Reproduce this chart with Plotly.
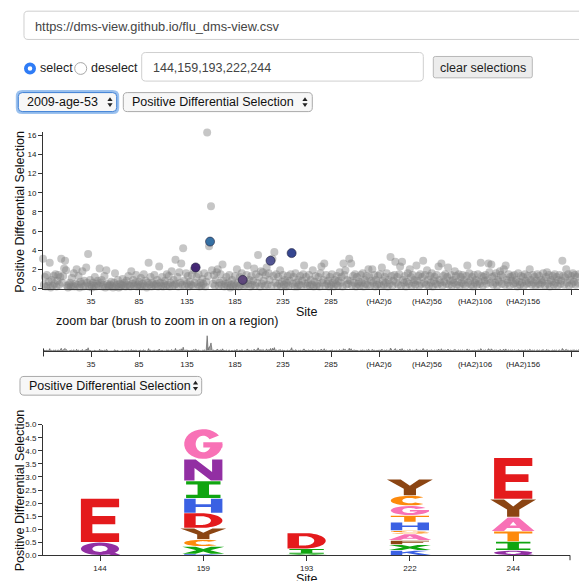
import math
import plotly.graph_objects as go

# ---------------- data ----------------
sites = ([str(s) for s in range(-16, 0)] + [str(s) for s in range(1, 330)]
         + [f"(HA2){s}" for s in range(1, 222)])

pos_diff_sel = [
    3.1, 0.4, 1.2, 0.2, 1.4, 0.3, 0.7, 2.7, 0.1, 0.9,
    0.3, 1.3, 0.5, 1.5, 0.2, 0.8, 1.4, 0.4, 1.2, 3.1,
    0.6, 1.3, 2.1, 2.9, 1.9, 0.3, 0.1, 0.4, 0.6, 0.2,
    1.1, 0.3, 1.6, 0.2, 0.5, 2.0, 0.4, 1.3, 0.1, 0.7,
    0.5, 1.8, 0.2, 0.8, 0.3, 2.2, 0.6, 3.6, 0.2, 0.9,
    0.4, 0.1, 0.6, 0.3, 1.2, 0.2, 0.5, 0.8, 0.3, 2.1,
    0.6, 0.9, 0.2, 0.4, 1.3, 0.1, 1.9, 0.5, 0.3, 0.2,
    0.4, 0.7, 0.3, 0.1, 0.6, 1.6, 0.2, 0.4, 0.9, 0.1,
    0.5, 0.2, 0.4, 1.0, 0.3, 0.6, 0.2, 0.8, 0.4, 1.3,
    0.3, 0.2, 1.8, 0.5, 0.9, 0.3, 0.6, 1.4, 0.2, 0.4,
    0.7, 0.3, 1.1, 0.2, 0.5, 1.5, 0.3, 0.8, 0.1, 0.6,
    2.7, 0.4, 1.2, 0.2, 0.6, 0.4, 1.4, 0.3, 0.5, 0.9,
    0.2, 2.3, 0.6, 0.3, 1.2, 0.2, 0.5, 0.8, 0.3, 1.5,
    0.4, 1.3, 0.2, 0.6, 1.8, 0.3, 0.9, 0.4, 3.0, 0.5,
    1.2, 0.2, 1.7, 0.6, 2.6, 0.4, 4.2, 0.8, 0.3, 1.6,
    0.5, 1.3, 0.2, 0.7, 0.4, 1.4, 0.3, 1.9, 0.6, 2.2,
    1.2, 0.4, 1.5, 0.2, 0.6, 0.3, 1.0, 0.5, 1.6, 0.2,
    0.7, 16.3, 1.3, 4.4, 4.9, 8.6, 1.9, 0.5, 1.4, 0.3,
    0.9, 1.7, 2.0, 0.3, 0.6, 1.5, 0.4, 2.5, 0.8, 0.2,
    0.5, 1.2, 0.3, 0.6, 1.4, 0.1, 0.4, 0.9, 0.2, 0.5,
    1.3, 0.3, 2.0, 0.6, 0.2, 1.2, 0.4, 1.6, 0.9, 0.3,
    0.7, 0.4, 1.4, 2.4, 0.5, 0.9, 0.2, 1.3, 0.4, 0.8,
    2.1, 0.3, 1.5, 0.6, 3.5, 1.2, 0.2, 1.8, 0.5, 1.7,
    0.8, 0.3, 1.4, 2.2, 0.4, 1.6, 0.9, 2.9, 0.3, 3.1,
    1.3, 3.8, 0.6, 1.5, 0.3, 1.2, 0.5, 1.9, 0.2, 0.7,
    1.4, 0.4, 0.9, 0.2, 0.6, 1.3, 0.3, 0.8, 1.5, 3.7,
    0.5, 1.2, 0.2, 1.6, 0.6, 0.2, 0.9, 0.4, 1.3, 0.3,
    0.8, 1.5, 2.4, 0.5, 1.2, 0.3, 0.6, 1.4, 0.3, 0.9,
    0.4, 1.9, 0.2, 0.7, 1.3, 0.3, 0.5, 1.2, 0.2, 1.6,
    2.3, 0.6, 0.9, 2.6, 0.3, 1.4, 0.5, 0.8, 0.2, 1.2,
    0.4, 1.5, 0.6, 0.2, 0.9, 0.5, 1.3, 0.3, 0.8, 1.7,
    0.6, 1.2, 0.2, 2.6, 1.4, 1.9, 0.4, 0.9, 0.5, 3.1,
    0.8, 2.6, 0.3, 1.3, 0.6, 1.5, 0.2, 1.2, 0.5, 0.7,
    0.3, 1.4, 0.6, 1.6, 0.2, 0.9, 0.5, 1.3, 0.4, 2.0,
    1.2, 0.3, 0.8, 2.0, 0.6, 1.4, 0.2, 0.9, 0.4, 1.3,
    0.5, 1.5, 0.3, 2.2, 0.8, 0.4, 1.2, 0.6, 1.6, 0.2,
    0.9, 0.5, 3.3, 1.3, 0.3, 0.8, 1.4, 2.8, 0.6, 1.2,
    0.4, 1.5, 2.3, 0.3, 2.8, 0.9, 0.6, 1.3, 0.2, 0.7,
    1.6, 0.5, 2.0, 1.2, 0.3, 1.4, 0.6, 0.9, 0.4, 2.4,
    0.8, 1.3, 0.3, 1.5, 0.5, 1.2, 2.9, 0.6, 1.4, 0.4,
    1.9, 0.9, 0.3, 1.3, 0.6, 1.6, 0.2, 0.8, 1.2, 0.5,
    1.4, 0.4, 2.3, 0.9, 0.6, 2.6, 0.3, 1.3, 0.7, 1.5,
    0.5, 1.2, 2.2, 0.4, 0.8, 1.4, 0.3, 0.9, 0.6, 1.8,
    1.3, 0.4, 0.7, 1.5, 0.3, 1.2, 0.6, 1.4, 0.5, 0.9,
    0.3, 1.3, 2.4, 0.6, 1.6, 0.8, 0.4, 1.2, 0.2, 1.4,
    0.6, 0.9, 0.4, 1.5, 0.7, 0.5, 2.7, 1.3, 0.3, 1.2,
    0.8, 1.4, 0.5, 0.9, 2.6, 1.7, 0.6, 2.5, 1.2, 0.4,
    1.3, 0.6, 1.6, 0.3, 0.9, 0.7, 1.8, 1.4, 0.5, 1.2,
    2.0, 0.4, 2.4, 0.9, 0.6, 1.5, 0.3, 1.2, 0.8, 1.3,
    0.5, 1.4, 0.6, 0.9, 0.2, 1.6, 0.7, 0.4, 1.3, 0.6,
    1.2, 0.3, 1.5, 0.8, 0.5, 1.3, 0.6, 2.0, 0.9, 0.4,
    1.4, 0.6, 1.2, 0.3, 0.8, 1.5, 0.5, 1.3, 0.4, 0.9,
    0.6, 1.6, 0.8, 0.3, 1.2, 1.7, 0.5, 1.4, 0.2, 0.9,
    0.7, 1.3, 0.4, 1.5, 0.6, 1.2, 0.3, 0.9, 1.4, 0.5,
    0.8, 2.9, 1.3, 0.4, 1.2, 2.0, 0.6, 1.5, 0.3, 0.9,
    1.3, 0.5, 1.6, 0.7, 1.4, 0.4, 1.2, 0.6, 1.5, 0.9,
    0.5, 1.3, 0.3, 0.8, 1.2, 0.6,
]

selected_sites = ["144", "159", "193", "222", "244"]
selected_colors = ["#3b1d6e", "#2c6aa0", "#5b4379", "#4b4e8f", "#2b3d8b"]

x_tick_idx = list(range(50, len(sites), 50))
y_ticks_main = [0, 2, 4, 6, 8, 10, 12, 14, 16]
y_ticks_logo = [0.0, 0.5, 1.0, 1.5, 2.0, 2.5, 3.0, 3.5, 4.0, 4.5, 5.0]

logo_sites = ["144", "159", "193", "222", "244"]
logo_144 = [("Q", 0.50), ("E", 1.68)]
logo_159 = [("K", 0.05), ("X", 0.29), ("C", 0.27), ("Y", 0.43), ("D", 0.58),
            ("H", 0.56), ("I", 0.67), ("N", 0.83), ("G", 1.16)]
logo_193 = [("V", 0.05), ("I", 0.20), ("D", 0.61)]
logo_222 = [("K", 0.19), ("X", 0.22), ("F", 0.16), ("A", 0.25), ("S", 0.13),
            ("H", 0.32), ("T", 0.26), ("G", 0.37), ("C", 0.39), ("Y", 0.62)]
logo_244 = [("Q", 0.19), ("I", 0.34), ("T", 0.39), ("A", 0.54), ("Y", 0.69), ("E", 1.59)]
logo_stacks = [logo_144, logo_159, logo_193, logo_222, logo_244]

aa_colors = {
    "E": "#e41a1c", "D": "#e41a1c",
    "Q": "#922fa3", "N": "#922fa3",
    "G": "#f871b6", "A": "#f871b6",
    "I": "#10a510", "V": "#10a510", "X": "#10a510",
    "H": "#3b61e3", "K": "#3b61e3",
    "C": "#fd8a0c", "T": "#fd8a0c", "S": "#fd8a0c",
    "Y": "#8b4513", "F": "#8b4513",
}

# ---------------- helpers ----------------
W, H = 579, 581
FONT = "Liberation Sans, Arial, Helvetica, sans-serif"


def px(x):
    return x / W


def py(y):
    return 1 - y / H


def P(x, y):
    return f"{px(x):.5f},{py(y):.5f}"


def rrect(x0, y0, x1, y1, r):
    return (f"M {P(x0 + r, y0)} L {P(x1 - r, y0)} Q {P(x1, y0)} {P(x1, y0 + r)} "
            f"L {P(x1, y1 - r)} Q {P(x1, y1)} {P(x1 - r, y1)} L {P(x0 + r, y1)} "
            f"Q {P(x0, y1)} {P(x0, y1 - r)} L {P(x0, y0 + r)} Q {P(x0, y0)} {P(x0 + r, y0)} Z")


def arc(cx, cy, rx, ry, a0, a1, n=28):
    out = []
    for k in range(n + 1):
        a = math.radians(a0 + (a1 - a0) * k / n)
        out.append((cx + rx * math.cos(a), cy + ry * math.sin(a)))
    return out


def ring(a0, a1, cx=0.5, cy=0.5, rx=0.5, ry=0.5, tx=0.3, ty=0.2):
    return [arc(cx, cy, rx, ry, a0, a1) + arc(cx, cy, rx - tx, ry - ty, a1, a0)]


def full_o(tx=0.3, ty=0.22):
    return [arc(0.5, 0.5, 0.5, 0.5, 0, 360), arc(0.5, 0.5, 0.5 - tx, 0.5 - ty, 0, 360)]


GLYPHS = {
    "E": [[[(0, 0), (1, 0), (1, 0.2), (0.3, 0.2), (0.3, 0.41), (0.9, 0.41), (0.9, 0.6),
            (0.3, 0.6), (0.3, 0.8), (1, 0.8), (1, 1), (0, 1)]]],
    "F": [[[(0, 0), (0.3, 0), (0.3, 0.4), (0.85, 0.4), (0.85, 0.6), (0.3, 0.6), (0.3, 0.8),
            (1, 0.8), (1, 1), (0, 1)]]],
    "T": [[[(0, 0.8), (0, 1), (1, 1), (1, 0.8), (0.65, 0.8), (0.65, 0), (0.35, 0), (0.35, 0.8)]]],
    "I": [[[(0.05, 0), (0.95, 0), (0.95, 0.2), (0.65, 0.2), (0.65, 0.8), (0.95, 0.8), (0.95, 1),
            (0.05, 1), (0.05, 0.8), (0.35, 0.8), (0.35, 0.2), (0.05, 0.2)]]],
    "H": [[[(0, 0), (0.3, 0), (0.3, 0.4), (0.7, 0.4), (0.7, 0), (1, 0), (1, 1), (0.7, 1),
            (0.7, 0.6), (0.3, 0.6), (0.3, 1), (0, 1)]]],
    "K": [[[(0, 0), (0.3, 0), (0.3, 0.35), (0.42, 0.48), (0.72, 0), (1.05, 0), (0.6, 0.66),
            (1.0, 1), (0.62, 1), (0.3, 0.65), (0.3, 1), (0, 1)]]],
    "N": [[[(0, 0), (0.27, 0), (0.27, 0.6), (0.7, 0), (1, 0), (1, 1), (0.73, 1), (0.73, 0.4),
            (0.3, 1), (0, 1)]]],
    "X": [[[(-0.05, 1), (0.3, 1), (0.5, 0.68), (0.7, 1), (1.05, 1), (0.68, 0.5), (1.05, 0),
            (0.7, 0), (0.5, 0.32), (0.3, 0), (-0.05, 0), (0.32, 0.5)]]],
    "Y": [[[(-0.1, 1), (0.26, 1), (0.5, 0.6), (0.74, 1), (1.1, 1), (0.66, 0.42), (0.66, 0),
            (0.34, 0), (0.34, 0.42)]]],
    "V": [[[(-0.04, 1), (0.3, 1), (0.5, 0.35), (0.7, 1), (1.04, 1), (0.66, 0), (0.34, 0)]]],
    "A": [[[(-0.06, 0), (0.36, 1), (0.64, 1), (1.06, 0), (0.74, 0), (0.66, 0.22), (0.34, 0.22),
            (0.26, 0)], [(0.41, 0.4), (0.59, 0.4), (0.5, 0.68)]]],
    "D": [[[(0, 0), (0, 1), (0.45, 1)] + arc(0.45, 0.5, 0.55, 0.5, 90, -90) + [(0.45, 0)],
           [(0.3, 0.2), (0.3, 0.8), (0.45, 0.8)] + arc(0.45, 0.5, 0.25, 0.3, 90, -90) + [(0.45, 0.2)]]],
    "C": [ring(45, 315, tx=0.3, ty=0.22)[0:1]],
    "G": [ring(35, 360, tx=0.3, ty=0.22)[0:1],
          [[(0.5, 0.38), (1, 0.38), (1, 0.56), (0.5, 0.56)]]],
    "Q": [full_o(0.3, 0.25),
          [[(0.55, 0.28), (0.78, 0.32), (1.05, -0.02), (0.8, -0.02)]]],
    "S": [ring(20, 270, cx=0.5, cy=0.74, rx=0.5, ry=0.26, tx=0.28, ty=0.1)[0:1],
          ring(-160, 90, cx=0.5, cy=0.26, rx=0.5, ry=0.26, tx=0.28, ty=0.1)[0:1]],
}

# ---------------- figure ----------------
fig = go.Figure()

sel_idx = [sites.index(s) for s in selected_sites]
gray_x = [i for i in range(len(pos_diff_sel)) if i not in sel_idx]
gray_y = [pos_diff_sel[i] for i in gray_x]

fig.add_trace(go.Scatter(
    x=gray_x, y=gray_y, mode="markers", xaxis="x", yaxis="y",
    marker=dict(size=8, color="rgba(128,128,128,0.45)", line=dict(width=0)),
    cliponaxis=False, hoverinfo="skip"))
fig.add_trace(go.Scatter(
    x=sel_idx, y=[pos_diff_sel[i] for i in sel_idx], mode="markers", xaxis="x", yaxis="y",
    marker=dict(size=9, color=selected_colors, opacity=0.95,
                line=dict(width=1, color="rgba(20,20,50,0.6)")),
    cliponaxis=False, hoverinfo="skip"))
fig.add_trace(go.Scatter(
    x=list(range(len(pos_diff_sel))), y=pos_diff_sel, mode="lines", xaxis="x2", yaxis="y2",
    line=dict(color="#555555", width=0.6), fill="tozeroy", fillcolor="rgba(90,90,90,0.6)",
    hoverinfo="skip"))
logo_totals = [sum(h for _, h in st) for st in logo_stacks]
fig.add_trace(go.Scatter(
    x=list(range(len(logo_sites))), y=logo_totals, mode="markers", xaxis="x3", yaxis="y3",
    marker=dict(size=1, opacity=0), hoverinfo="skip"))

shapes = []
# letters
LW = 0.37
GAP = 0.012
for i, stack in enumerate(logo_stacks):
    base = 0.0
    for aa, h in stack:
        y0 = base + GAP
        hh = max(h - 2 * GAP, 0.005)
        for piece in GLYPHS[aa]:
            parts = []
            for rg in piece:
                pts = [(i + (u - 0.5) * LW, y0 + v * hh) for u, v in rg]
                parts.append("M " + " L ".join(f"{a:.4f},{b:.4f}" for a, b in pts) + " Z")
            shapes.append(dict(type="path", path=" ".join(parts), xref="x3", yref="y3",
                               fillcolor=aa_colors[aa], line=dict(width=0),
                               fillrule="evenodd", layer="above"))
        base += h

BORDER = "#cfcfcf"
# URL box
shapes.append(dict(type="path", path=rrect(24, 7.3, 600, 36, 4), xref="paper", yref="paper",
                   line=dict(color=BORDER, width=1), fillcolor="white"))
# radios
shapes.append(dict(type="circle", xref="paper", yref="paper", x0=px(24), x1=px(36),
                   y0=py(71.5), y1=py(59.5), fillcolor="#2f7cf6", line=dict(width=0)))
shapes.append(dict(type="circle", xref="paper", yref="paper", x0=px(27.7), x1=px(32.3),
                   y0=py(67.8), y1=py(63.2), fillcolor="white", line=dict(width=0)))
shapes.append(dict(type="circle", xref="paper", yref="paper", x0=px(74.7), x1=px(86.7),
                   y0=py(71.5), y1=py(59.5), fillcolor="white", line=dict(color="#a8a8a8", width=1)))
# text input
shapes.append(dict(type="path", path=rrect(141.7, 49.3, 423.3, 78.3, 4), xref="paper", yref="paper",
                   line=dict(color=BORDER, width=1), fillcolor="white"))
# button
shapes.append(dict(type="path", path=rrect(433.3, 53.3, 532.3, 75, 2), xref="paper", yref="paper",
                   line=dict(color="#b8b8b8", width=1), fillcolor="#ececec"))
# dropdowns
shapes.append(dict(type="path", path=rrect(17.3, 89, 117.7, 110.3, 5), xref="paper", yref="paper",
                   line=dict(color="rgba(74,144,226,0.55)", width=3), fillcolor="#f7f7f7"))
shapes.append(dict(type="path", path=rrect(18.3, 90, 116.7, 109.3, 4), xref="paper", yref="paper",
                   line=dict(color="#3d7fd6", width=1), fillcolor="#f7f7f7"))
for (x0, y0, x1, y1) in [(123.3, 90, 312.3, 109.3), (20, 378.3, 201.7, 397.3)]:
    shapes.append(dict(type="path", path=rrect(x0, y0, x1, y1, 4), xref="paper", yref="paper",
                       line=dict(color="#a9a9a9", width=1), fillcolor="#f7f7f7"))
# dropdown arrows
for (ax, ayc) in [(110, 99.7), (305, 99.7), (195.5, 387.8)]:
    shapes.append(dict(type="path", xref="paper", yref="paper", fillcolor="#222", line=dict(width=0),
                       path=f"M {P(ax - 2.6, ayc - 1.2)} L {P(ax + 2.6, ayc - 1.2)} L {P(ax, ayc - 5)} Z"))
    shapes.append(dict(type="path", xref="paper", yref="paper", fillcolor="#222", line=dict(width=0),
                       path=f"M {P(ax - 2.6, ayc + 1.2)} L {P(ax + 2.6, ayc + 1.2)} L {P(ax, ayc + 5)} Z"))
# d3 outer ticks
shapes.append(dict(type="line", xref="paper", yref="paper", x0=px(43.5), x1=px(43.5),
                   y0=py(350), y1=py(358), line=dict(color="#333", width=1)))
shapes.append(dict(type="line", xref="paper", yref="paper", x0=px(570), x1=px(570),
                   y0=py(560), y1=py(565), line=dict(color="#333", width=1)))

annotations = []


def label(text, x, y, size=12.5, color="#222", xanchor="left", yanchor="middle", angle=0):
    annotations.append(dict(text=text, x=px(x), y=py(y), xref="paper", yref="paper",
                            xanchor=xanchor, yanchor=yanchor, showarrow=False, textangle=angle,
                            font=dict(family=FONT, size=size, color=color)))


label("https://dms-view.github.io/flu_dms-view.csv", 33, 22.5, 12.8, "#444")
label("select", 37.5, 65.5)
label("deselect", 88.5, 65.5)
label("144,159,193,222,244", 150.5, 64.5, 12.5, "#444")
label("clear selections", 482.8, 64.5, 12.5, "#222", xanchor="center")
label("2009-age-53", 25, 100, 12.5, "#111")
label("Positive Differential Selection", 129.5, 100, 12.5, "#111")
label("Positive Differential Selection", 26.5, 388, 12.5, "#111")
label("Positive Differential Selection", 20, 211, 12.5, "#111", xanchor="center", angle=-90)
label("Site", 307, 313, 12.5, "#111", xanchor="center")
label("zoom bar (brush to zoom in on a region)", 54, 322, 12.5, "#111")
label("Positive Differential Selection", 20, 494, 12.5, "#111", xanchor="center", angle=-90)
label("Site", 307, 574.5, 12.5, "#111", xanchor="center", yanchor="top")

tickfont = dict(family=FONT, size=8, color="#222")
x_right = (579 - 43) / 0.96
common_x = dict(range=[0, x_right], tickvals=x_tick_idx, ticktext=[sites[i] for i in x_tick_idx],
                ticks="outside", ticklen=5, tickcolor="#333", showline=True, linecolor="#333",
                linewidth=1, showgrid=False, zeroline=False, tickfont=tickfont,
                domain=[43 / W, 1], fixedrange=True)

fig.update_layout(
    width=W, height=H, autosize=False,
    margin=dict(l=0, r=0, t=0, b=0, pad=0),
    paper_bgcolor="white", plot_bgcolor="rgba(0,0,0,0)",
    showlegend=False, hovermode=False,
    xaxis=dict(**common_x, anchor="y"),
    yaxis=dict(domain=[py(289), py(130.4)], range=[0, 16.3], tickvals=y_ticks_main,
               ticks="outside", ticklen=4, tickcolor="#333", showline=True, linecolor="#333",
               linewidth=1, showgrid=False, zeroline=False, tickfont=tickfont, anchor="x",
               fixedrange=True),
    xaxis2=dict(**common_x, anchor="y2"),
    yaxis2=dict(domain=[py(352.7), py(336.7)], range=[0, 16.3], visible=False, anchor="x2",
                fixedrange=True),
    xaxis3=dict(domain=[43 / W, 570 / W], range=[(43 - 100) / 103.3, (570 - 100) / 103.3],
                tickvals=list(range(len(logo_sites))), ticktext=logo_sites, ticks="outside",
                ticklen=5, tickcolor="#333", showline=True, linecolor="#333", linewidth=1,
                showgrid=False, zeroline=False, tickfont=tickfont, anchor="y3", fixedrange=True),
    yaxis3=dict(domain=[py(560), py(427.3)], range=[0, 5], tickvals=y_ticks_logo,
                ticktext=[f"{v:.1f}" for v in y_ticks_logo], ticks="outside", ticklen=4,
                tickcolor="#333", showline=True, linecolor="#333", linewidth=1, showgrid=False,
                zeroline=False, tickfont=tickfont, anchor="x3", fixedrange=True),
    shapes=shapes,
    annotations=annotations,
)

fig.write_html("out.html", config={"displayModeBar": False},
               post_script="document.body.style.margin='0';document.body.style.padding='0';"
                           "document.documentElement.style.overflow='hidden';")
